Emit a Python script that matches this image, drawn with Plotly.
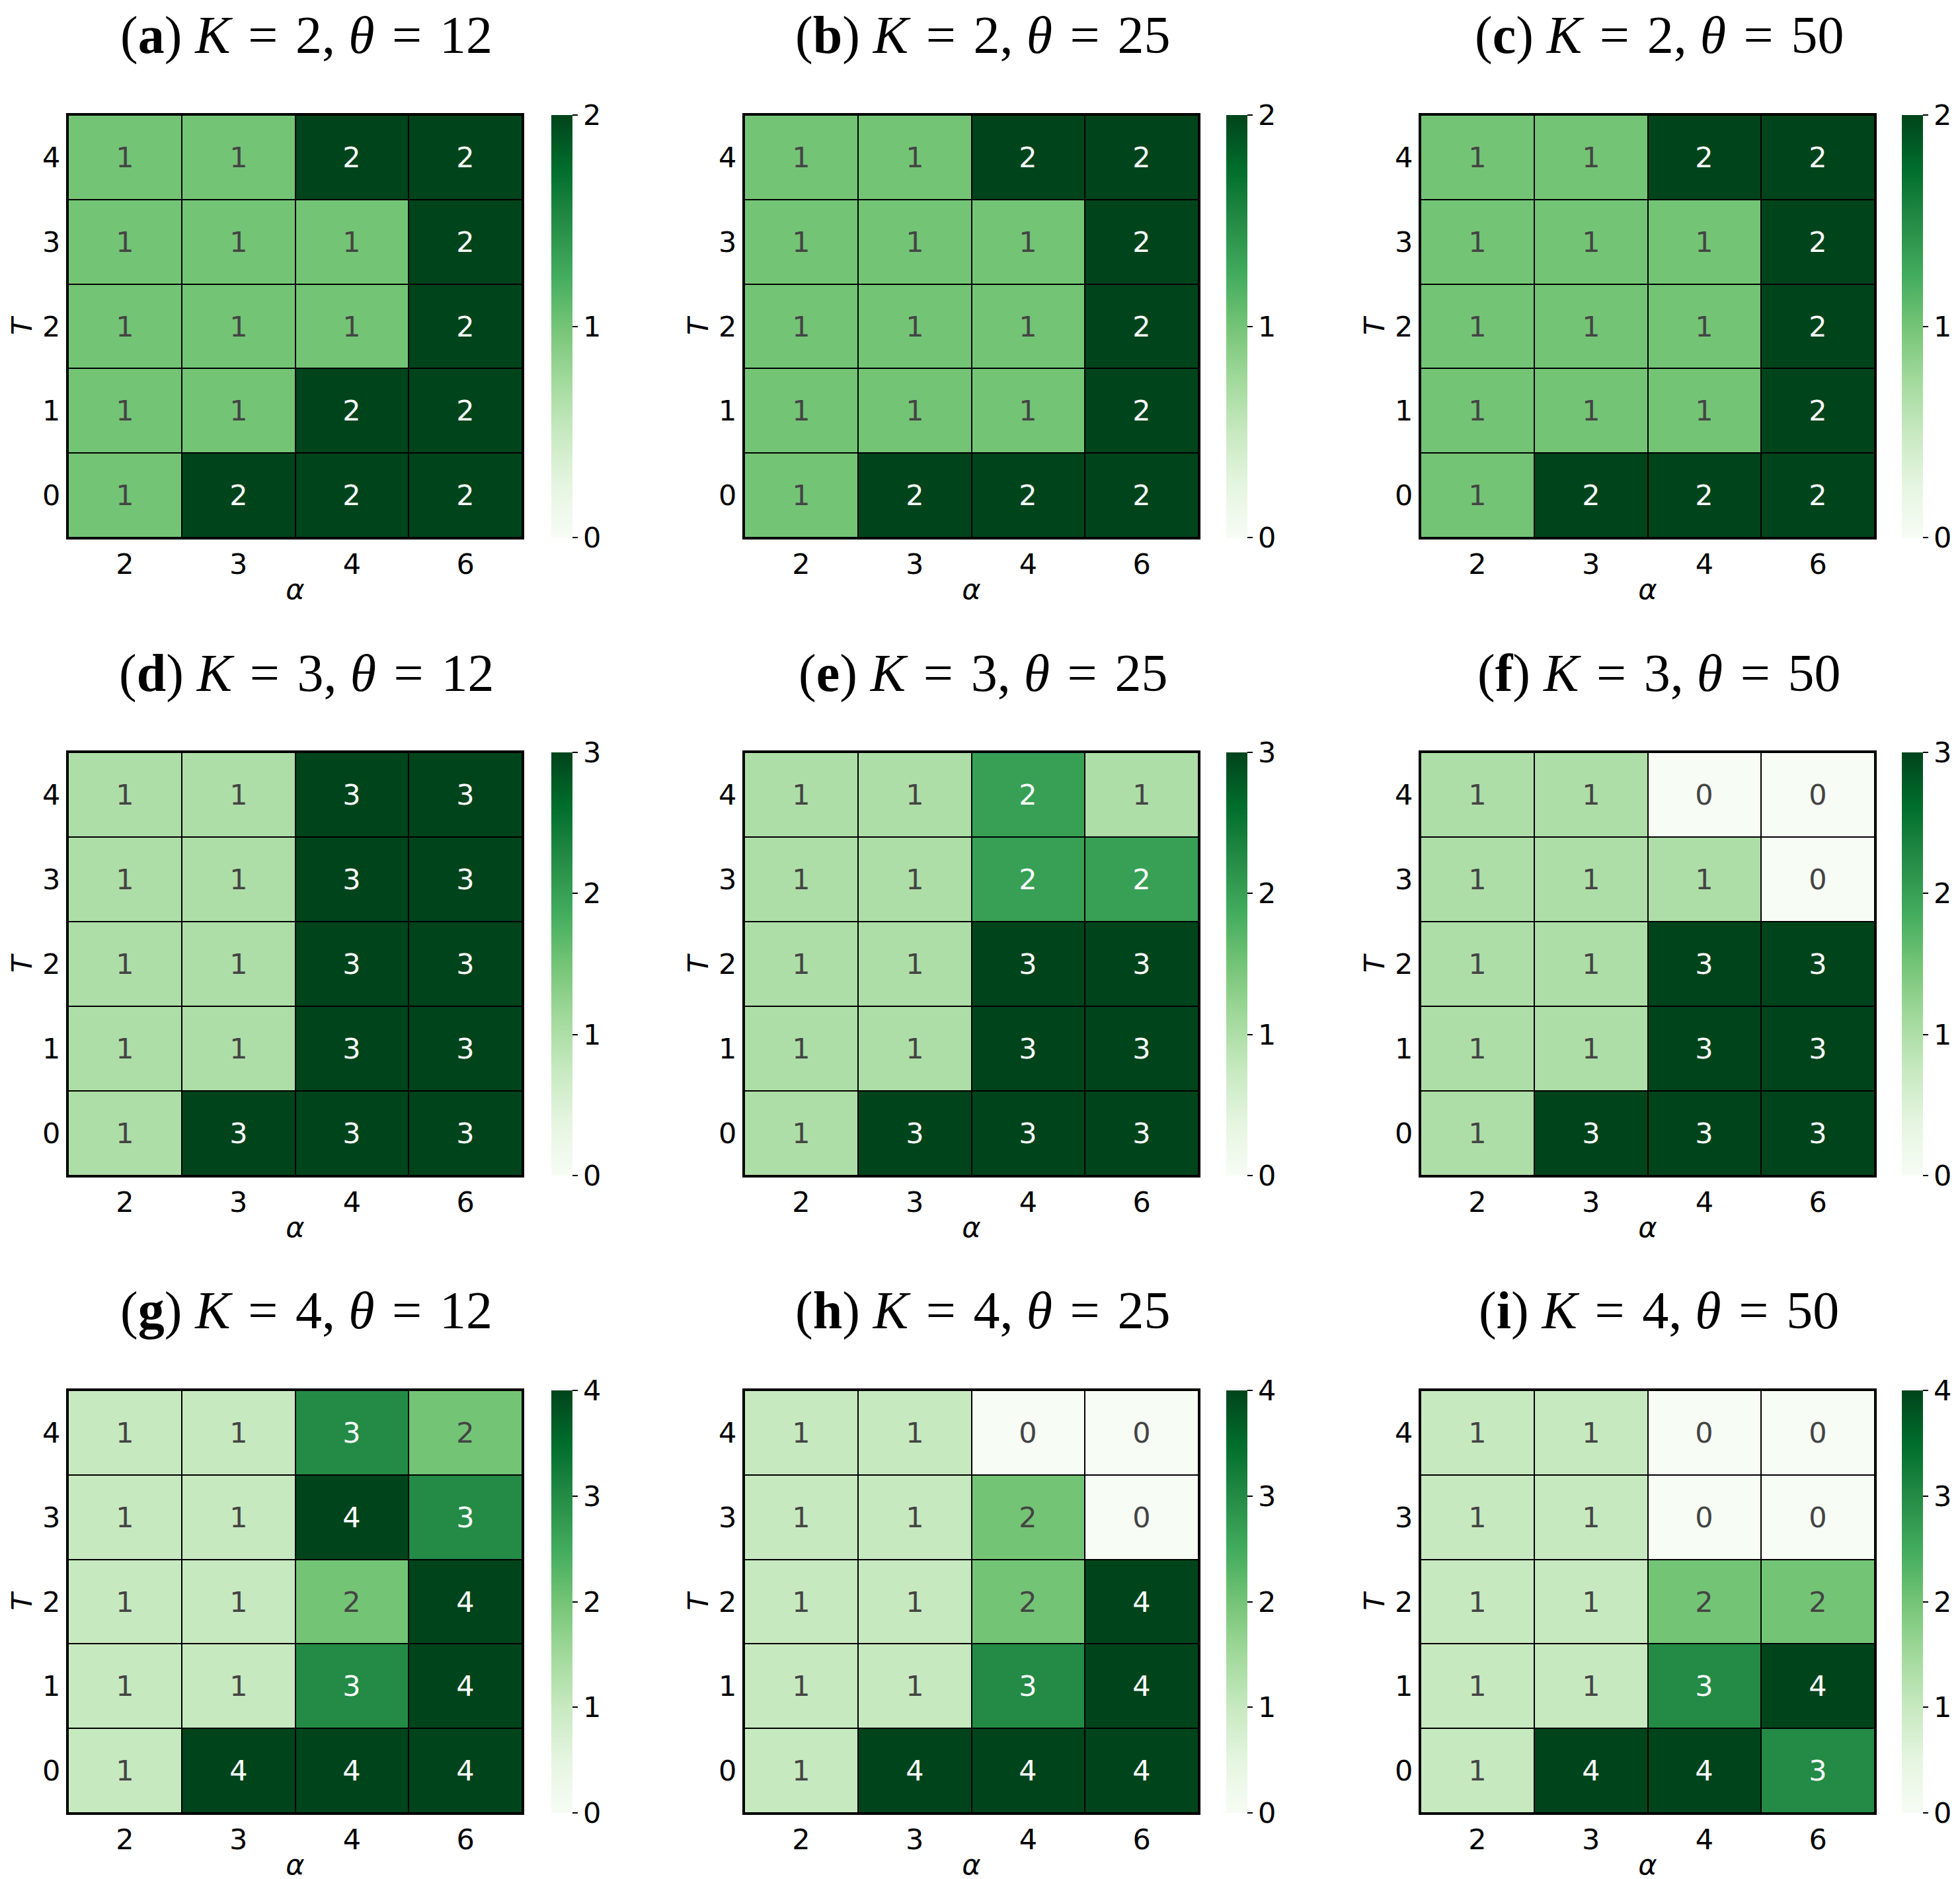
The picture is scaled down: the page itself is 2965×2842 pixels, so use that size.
import plotly.graph_objects as go

alphas = ["2", "3", "4", "6"]
T_vals = ["0", "1", "2", "3", "4"]

# rows are T = 0..4 (bottom to top), columns alpha = 2, 3, 4, 6
a_K2_t12 = [[1, 2, 2, 2], [1, 1, 2, 2], [1, 1, 1, 2], [1, 1, 1, 2], [1, 1, 2, 2]]
b_K2_t25 = [[1, 2, 2, 2], [1, 1, 1, 2], [1, 1, 1, 2], [1, 1, 1, 2], [1, 1, 2, 2]]
c_K2_t50 = [[1, 2, 2, 2], [1, 1, 1, 2], [1, 1, 1, 2], [1, 1, 1, 2], [1, 1, 2, 2]]
d_K3_t12 = [[1, 3, 3, 3], [1, 1, 3, 3], [1, 1, 3, 3], [1, 1, 3, 3], [1, 1, 3, 3]]
e_K3_t25 = [[1, 3, 3, 3], [1, 1, 3, 3], [1, 1, 3, 3], [1, 1, 2, 2], [1, 1, 2, 1]]
f_K3_t50 = [[1, 3, 3, 3], [1, 1, 3, 3], [1, 1, 3, 3], [1, 1, 1, 0], [1, 1, 0, 0]]
g_K4_t12 = [[1, 4, 4, 4], [1, 1, 3, 4], [1, 1, 2, 4], [1, 1, 4, 3], [1, 1, 3, 2]]
h_K4_t25 = [[1, 4, 4, 4], [1, 1, 3, 4], [1, 1, 2, 4], [1, 1, 2, 0], [1, 1, 0, 0]]
i_K4_t50 = [[1, 4, 4, 3], [1, 1, 3, 4], [1, 1, 2, 2], [1, 1, 0, 0], [1, 1, 0, 0]]

panels = [
    ("a", 2, 12, a_K2_t12), ("b", 2, 25, b_K2_t25), ("c", 2, 50, c_K2_t50),
    ("d", 3, 12, d_K3_t12), ("e", 3, 25, e_K3_t25), ("f", 3, 50, f_K3_t50),
    ("g", 4, 12, g_K4_t12), ("h", 4, 25, h_K4_t25), ("i", 4, 50, i_K4_t50),
]

greens = ["#f7fcf5", "#e5f5e0", "#c7e9c0", "#a1d99b", "#74c476",
          "#41ab5d", "#238b45", "#006d2c", "#00441b"]
scale = [[k / 8, c] for k, c in enumerate(greens)]

W, H = 2965, 2842
col_x = [(95, 782), (1118, 1805), (2141, 2828)]
cbar_x = [826, 1847, 2869]
row_y = [(166, 805), (1130, 1770), (2095, 2734)]

sans = "DejaVu Sans"
fs = 43
fig = go.Figure()
layout = {}
annots = []

for n, (letter, K, theta, z) in enumerate(panels):
    r, c = divmod(n, 3)
    x0, x1 = col_x[c]
    y0, y1 = row_y[r]
    dx = [x0 / W, x1 / W]
    dy = [1 - y1 / H, 1 - y0 / H]
    sfx = "" if n == 0 else str(n + 1)
    fig.add_trace(go.Heatmap(
        z=z, x=alphas, y=T_vals, zmin=0, zmax=K,
        colorscale=scale, xgap=2, ygap=2,
        texttemplate="%{z}", textfont=dict(family=sans, size=fs),
        xaxis="x" + sfx, yaxis="y" + sfx,
        colorbar=dict(
            x=cbar_x[c] / W, xanchor="left", xpad=0, ypad=0,
            y=dy[0], yanchor="bottom", len=dy[1] - dy[0], lenmode="fraction",
            thickness=32, outlinewidth=0,
            tickvals=list(range(K + 1)), ticks="outside", ticklen=8,
            tickwidth=2, tickcolor="black",
            tickfont=dict(family=sans, size=fs, color="black"),
        ),
    ))
    layout["xaxis" + sfx] = dict(
        domain=dx, anchor="y" + sfx, type="category",
        showline=True, mirror=True, linecolor="black", linewidth=3,
        ticks="", showgrid=False, tickfont=dict(family=sans, size=fs, color="black"),
        title=dict(text="<i>α</i>", font=dict(family=sans, size=fs, color="black"), standoff=0),
    )
    layout["yaxis" + sfx] = dict(
        domain=dy, anchor="x" + sfx, type="category",
        showline=True, mirror=True, linecolor="black", linewidth=3,
        ticks="", showgrid=False, tickfont=dict(family=sans, size=fs, color="black"),
        title=dict(text="<i>T</i>", font=dict(family=sans, size=fs, color="black"), standoff=2),
    )
    annots.append(dict(
        x=((x0 + x1) / 2 + 17) / W, y=1 - (y0 - 120) / H, xref="paper", yref="paper",
        xanchor="center", yanchor="middle", showarrow=False,
        text=f"(<b>{letter}</b>) <i>K</i>\u2004=\u2004{K}, <i>θ</i>\u2004=\u2004{theta}",
        font=dict(family="Liberation Serif", size=80, color="black"),
    ))

fig.update_layout(
    width=W, height=H, margin=dict(l=0, r=0, t=0, b=0),
    paper_bgcolor="white", plot_bgcolor="black",
    annotations=annots, **layout,
)
fig.write_html("out.html")
